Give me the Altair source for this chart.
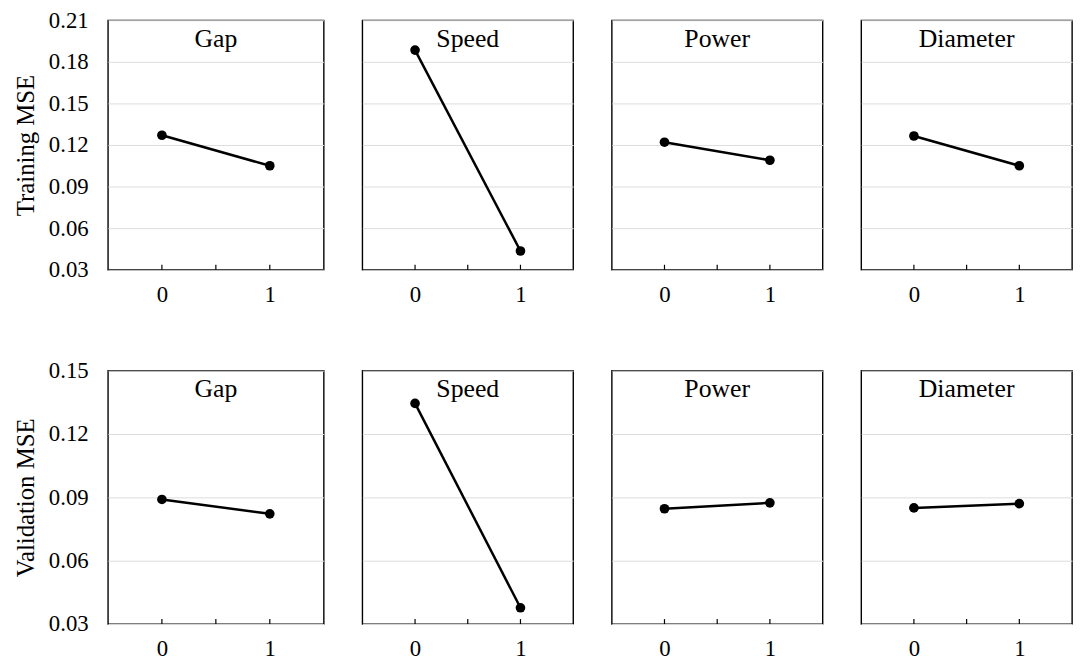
import altair as alt
import pandas as pd

factors = ["Gap", "Speed", "Power", "Diameter"]
levels = [0, 1]

# Training MSE at level 0 and 1 for each factor
train_gap = [0.127, 0.105]
train_speed = [0.1885, 0.0435]
train_power = [0.122, 0.109]
train_diameter = [0.1265, 0.105]

# Validation MSE at level 0 and 1 for each factor
val_gap = [0.089, 0.0822]
val_speed = [0.1345, 0.0377]
val_power = [0.0846, 0.0874]
val_diameter = [0.085, 0.087]

train_ticks = [0.03, 0.06, 0.09, 0.12, 0.15, 0.18, 0.21]
val_ticks = [0.03, 0.06, 0.09, 0.12, 0.15]
x_tick_positions = [0, 0.5, 1]

FONT = "Liberation Serif"

rows = []
for metric, series in [
    ("Training MSE", [train_gap, train_speed, train_power, train_diameter]),
    ("Validation MSE", [val_gap, val_speed, val_power, val_diameter]),
]:
    for f, vals in zip(factors, series):
        for lv, v in zip(levels, vals):
            rows.append({"metric": metric, "factor": f, "level": lv, "value": v})
df = pd.DataFrame(rows)


def panel(metric, factor, ydomain, yticks, width, height, first):
    sub = df[(df.metric == metric) & (df.factor == factor)]
    base = alt.Chart(sub)
    xenc = alt.X(
        "level:Q",
        scale=alt.Scale(domain=[-0.5, 1.5], nice=False, zero=False),
        axis=alt.Axis(values=[0, 1], format="d", title=None, domain=False,
                      ticks=False, grid=False, labelPadding=14,
                      labelFontSize=23, labelFont=FONT, labelColor="black"),
    )
    if first:
        yaxis = alt.Axis(values=yticks, format=".2f", title=metric,
                         domain=False, ticks=False, grid=True,
                         gridColor="#dddddd", gridWidth=1,
                         labelPadding=20, labelFontSize=23, labelFont=FONT,
                         labelColor="black", titleFont=FONT, titleFontSize=25,
                         titleFontWeight="normal", titleColor="black",
                         titlePadding=10)
    else:
        yaxis = alt.Axis(values=yticks, labels=False, title=None,
                         domain=False, ticks=False, grid=True,
                         gridColor="#dddddd", gridWidth=1)
    yenc = alt.Y("value:Q", scale=alt.Scale(domain=ydomain, nice=False, zero=False),
                 axis=yaxis)
    line = base.mark_line(color="black", strokeWidth=2.5).encode(x=xenc, y=yenc)
    pts = base.mark_circle(color="black", size=95, opacity=1).encode(
        x="level:Q", y="value:Q")
    ticks = alt.Chart(pd.DataFrame({"level": x_tick_positions})).mark_rule(
        color="black", strokeWidth=1.2).encode(
        x="level:Q", y=alt.value(height), y2=alt.value(height - 5))
    title = alt.Chart(pd.DataFrame({"f": [factor]})).mark_text(
        font=FONT, fontSize=26, baseline="alphabetic", align="center",
        color="black").encode(
        text="f:N", x=alt.value(width / 2), y=alt.value(27))
    return alt.layer(line, pts, ticks, title).properties(width=width, height=height)


def row(metric, ydomain, yticks, height):
    panels = []
    for i, f in enumerate(factors):
        w = 218 if i == 0 else 213
        panels.append(panel(metric, f, ydomain, yticks, w, height, i == 0))
    return alt.hconcat(*panels, spacing=37)


top = row("Training MSE", [0.03, 0.21], train_ticks, 252)
bottom = row("Validation MSE", [0.03, 0.15], val_ticks, 256)

chart = alt.vconcat(top, bottom, spacing=52).properties(
    padding={"left": 5, "top": -3, "right": 2, "bottom": 2}
).configure(font=FONT).configure_view(
    stroke="black", strokeWidth=1.4
)

chart.save("out.html", embed_options={"renderer": "svg", "actions": False})
